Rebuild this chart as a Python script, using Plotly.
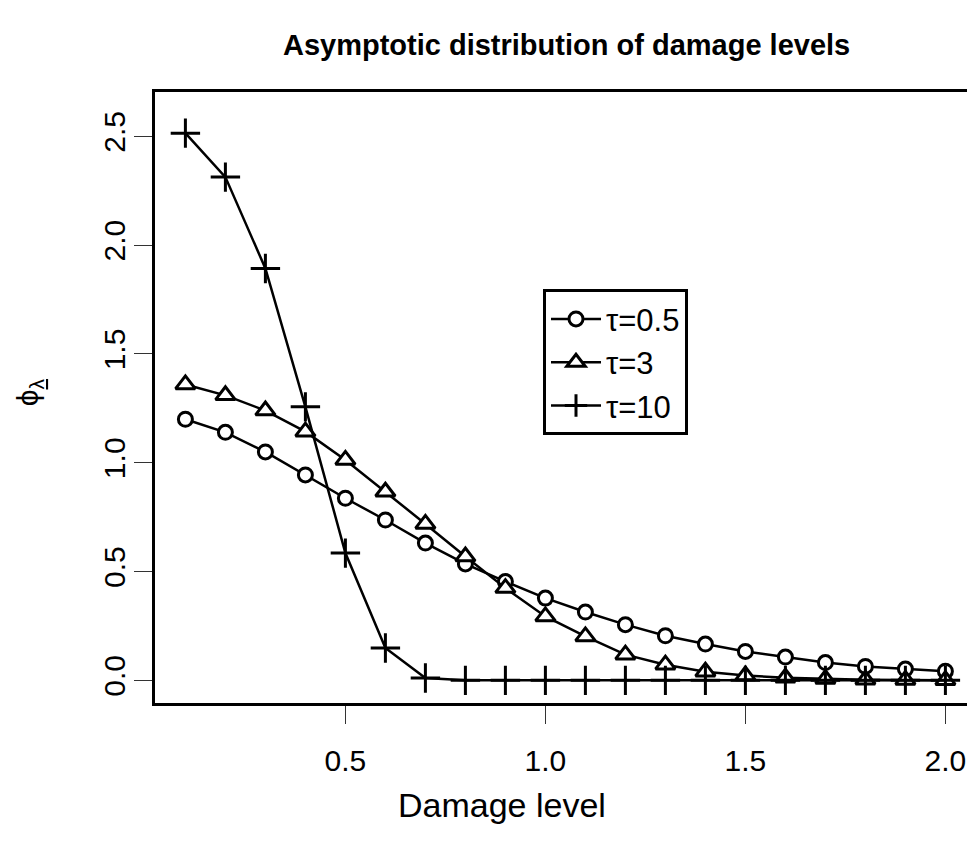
import plotly.graph_objects as go

# Data
damage = [0.1, 0.2, 0.3, 0.4, 0.5, 0.6, 0.7, 0.8, 0.9, 1.0,
          1.1, 1.2, 1.3, 1.4, 1.5, 1.6, 1.7, 1.8, 1.9, 2.0]
phi_tau05 = [1.20, 1.14, 1.05, 0.944, 0.837, 0.737, 0.631, 0.535, 0.454, 0.378,
             0.314, 0.256, 0.205, 0.167, 0.133, 0.107, 0.082, 0.064, 0.052, 0.042]
phi_tau3 = [1.36, 1.31, 1.24, 1.143, 1.013, 0.867, 0.719, 0.569, 0.424, 0.294,
            0.202, 0.118, 0.072, 0.040, 0.022, 0.012, 0.006, 0.003, 0.002, 0.001]
phi_tau10 = [2.515, 2.313, 1.893, 1.257, 0.585, 0.149, 0.011, 0.0, 0.0, 0.0,
             0.0, 0.0, 0.0, 0.0, 0.0, 0.0, 0.0, 0.0, 0.0, 0.0]
series_names = ["τ=0.5", "τ=3", "τ=10"]
x_ticks = [0.5, 1.0, 1.5, 2.0]
y_ticks = [0.0, 0.5, 1.0, 1.5, 2.0, 2.5]

FONT = "Liberation Sans, Arial, Helvetica, sans-serif"

# page body has an 8px default margin: compensate
OFF = 8
W, H = 975 - OFF, 858 - OFF
L, T, B = 155 - OFF, 92 - OFF, 155
PW = W - L          # plot width (820)
PH = H - T - B      # plot height (611)

fig = go.Figure()
styles = [
    dict(symbol="circle", size=14, fill="white"),
    dict(symbol="triangle-up", size=17, fill="white"),
    dict(symbol="cross-thin-open", size=21, fill="black"),
]
for name, ys, st in zip(series_names, [phi_tau05, phi_tau3, phi_tau10], styles):
    fig.add_trace(go.Scatter(
        x=damage, y=ys, name=name, mode="lines+markers",
        line=dict(color="black", width=2.5),
        marker=dict(symbol=st["symbol"], size=st["size"], color=st["fill"],
                    line=dict(color="black", width=3)),
    ))

def px_x(px):  # window pixel -> paper x
    return (px - 155) / PW

def px_y(py):  # window pixel -> paper y
    return (702.7 - py) / PH

fig.update_layout(
    width=W, height=H,
    margin=dict(l=L, r=0, t=T, b=B, autoexpand=False),
    paper_bgcolor="white", plot_bgcolor="white",
    font=dict(family=FONT, color="black"),
    showlegend=True,
    legend=dict(
        x=px_x(543), y=px_y(289), xanchor="left", yanchor="top",
        bordercolor="black", borderwidth=3, bgcolor="white",
        font=dict(size=31, family=FONT, color="black"),
        itemwidth=50, tracegroupgap=0,
        entrywidth=140, entrywidthmode="pixels",
    ),
    xaxis=dict(
        range=[0.024, 2.074], tickvals=x_ticks, ticktext=[f"{v:.1f}" for v in x_ticks],
        showgrid=False, zeroline=False, showline=True, linecolor="black", linewidth=3,
        mirror=True, ticks="outside", ticklen=18, tickwidth=1, tickcolor="#333",
        tickfont=dict(size=30, family=FONT, color="black"), ticklabelstandoff=11,
    ),
    yaxis=dict(
        range=[-0.104, 2.704], tickvals=y_ticks, ticktext=[f"{v:.1f}" for v in y_ticks],
        showgrid=False, zeroline=False, showline=True, linecolor="black", linewidth=3,
        mirror=False, ticks="outside", ticklen=18, tickwidth=1, tickcolor="#333",
        tickangle=-90, tickfont=dict(size=30, family=FONT, color="black"),
        ticklabelstandoff=-3,
    ),
    annotations=[
        dict(text="<b>Asymptotic distribution of damage levels</b>",
             xref="paper", yref="paper", x=px_x(566), y=px_y(45),
             xanchor="center", yanchor="middle", showarrow=False,
             font=dict(size=29, family=FONT, color="black")),
        dict(text="Damage level", xref="paper", yref="paper",
             x=px_x(502), y=px_y(805),
             xanchor="center", yanchor="middle", showarrow=False,
             font=dict(size=34, family=FONT, color="black")),
        dict(text="ϕ<sub><u>λ</u></sub>", xref="paper", yref="paper",
             x=px_x(29), y=px_y(392), textangle=-90,
             xanchor="center", yanchor="middle", showarrow=False,
             font=dict(size=30, family=FONT, color="black")),
    ],
)

fig.write_html("out.html")
